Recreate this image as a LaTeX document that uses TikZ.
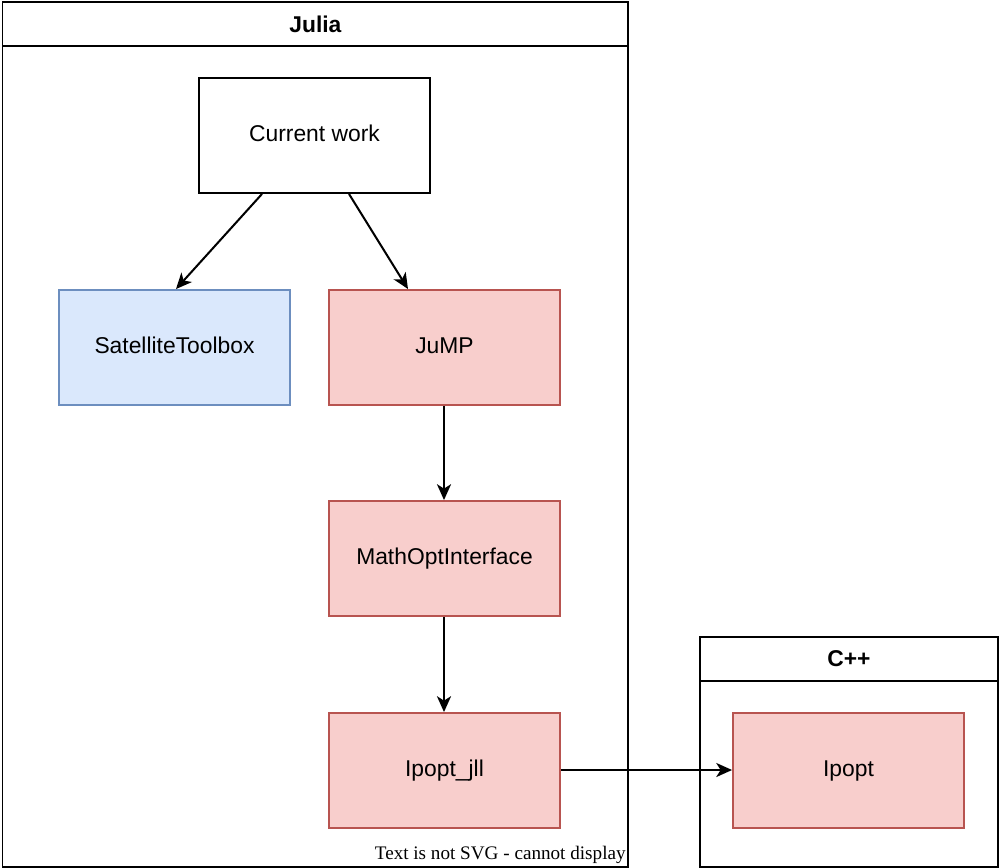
\documentclass[tikz,border=0pt]{standalone}
\usepackage{fontspec}
\setmainfont{Liberation Sans}
\newfontfamily\serifnote{Liberation Serif}
\usepackage{xcolor}
\usepackage{tikz}
\usetikzlibrary{calc,arrows.meta}

\definecolor{blueFill}{HTML}{DAE8FC}
\definecolor{blueLine}{HTML}{6C8EBF}
\definecolor{redFill}{HTML}{F8CECC}
\definecolor{redLine}{HTML}{B85450}

\begin{document}
\begin{tikzpicture}[
        x=0.02cm, y=-0.02cm,
        font=\fontsize{13}{15}\selectfont,
        lane/.style = {draw, rectangle, line width=1.1pt, anchor=north west},
        lanehead/.style = {draw, rectangle, line width=1.1pt, anchor=north west, minimum height=0.88cm, font=\fontsize{13}{15}\selectfont\bfseries},
        box/.style = {draw, rectangle, line width=1.1pt, minimum width=4.62cm, minimum height=2.3cm, text height=9.4pt, text depth=2.7pt},
        bluebox/.style = {box, draw=blueLine, fill=blueFill},
        redbox/.style = {box, draw=redLine, fill=redFill},
        arrow/.style = {-{Stealth[length=9pt, width=8pt, inset=2.5pt]}, line width=1.15pt}
    ]
    \useasboundingbox (0,0) rectangle (1000,868);

    % Julia container
    \node[lane, minimum width=12.52cm, minimum height=17.3cm] (julia) at (1.5,1) {};
    \node[lanehead, minimum width=12.52cm] (juliahead) at (julia.north west) {Julia};

    % C++ container
    \node[lane, minimum width=5.96cm, minimum height=4.6cm] (cpp) at (699,636) {};
    \node[lanehead, minimum width=5.96cm] (cpphead) at (cpp.north west) {C++};

    % Packages
    \node[box] (current) at (314.5,135.5) {Current work};
    \node[bluebox] (sattool) at (174.5,347.5) {SatelliteToolbox};
    \node[redbox] (jump) at (444.5,347.5) {JuMP};
    \node[redbox] (moi) at (444.5,558.5) {MathOptInterface};
    \node[redbox] (ipoptjll) at (444.5,770.5) {Ipopt\_jll};
    \node[redbox] (ipopt) at (848.5,770.5) {Ipopt};

    % Dependencies
    \draw[arrow] ($(current.south)+(-52.5,0)$) -- ($(sattool.north)+(1.5,0)$);
    \draw[arrow] ($(current.south)+(34.5,0)$) -- ($(jump.north)+(-36.5,0)$);
    \draw[arrow] ($(jump.south)+(-0.5,0)$) -- ($(moi.north)+(-0.5,0)$);
    \draw[arrow] ($(moi.south)+(-0.5,0)$) -- ($(ipoptjll.north)+(-0.5,0)$);
    \draw[arrow] ($(ipoptjll.east)+(0,-0.5)$) -- ($(ipopt.west)+(0,-0.5)$);

    % Note at the bottom
    \node[anchor=base east, inner sep=0pt, font=\serifnote\fontsize{10.9}{12}\selectfont] (note) at (626,859) {Text is not SVG - cannot display};

\end{tikzpicture}
\end{document}
